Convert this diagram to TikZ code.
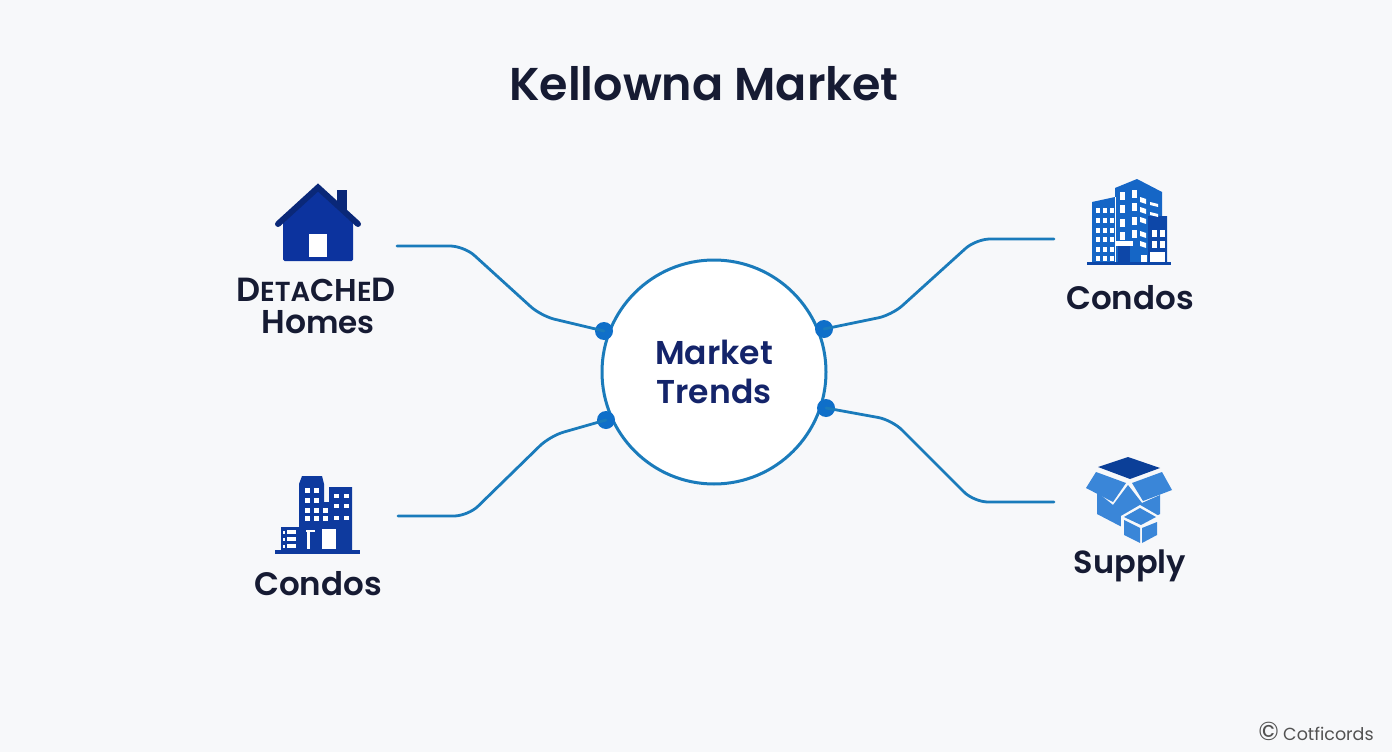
\documentclass[tikz,border=0pt]{standalone}
\usepackage{fontspec}
\setmainfont{Poppins}[BoldFont={Poppins SemiBold}]
\usetikzlibrary{calc}
\definecolor{bgc}{HTML}{F7F8FA}
\definecolor{halo}{HTML}{FDFDFE}
\definecolor{inkc}{HTML}{161B33}
\definecolor{navyt}{HTML}{14246A}
\definecolor{linec}{HTML}{1A7BBB}
\definecolor{dotc}{HTML}{0F6FC9}
\definecolor{housec}{HTML}{0C339E}
\definecolor{roofc}{HTML}{0A2878}
\definecolor{bldc}{HTML}{0E3A9E}
\definecolor{brightc}{HTML}{1566C6}
\definecolor{darkb}{HTML}{0D47A8}
\definecolor{boxc}{HTML}{3A86D8}
\definecolor{lidc}{HTML}{0B3F98}
\newcommand{\softpanel}[4]{%
  \foreach \d in {0,4,8,12,16}{
    \fill[halo,opacity=0.16,rounded corners=40pt] (#1+\d,#2+\d) rectangle (#3-\d,#4-\d);
  }}
\tikzset{
  label/.style={font=\bfseries\fontsize{32.5}{33}\selectfont,text=inkc,inner sep=0pt,anchor=center},
  link/.style={draw=linec,line width=2.8pt,line cap=round,line join=round,rounded corners=14pt},
  hub/.style={circle,fill=dotc,minimum size=18pt,inner sep=0pt},
}
\begin{document}
\begin{tikzpicture}[x=1pt,y=-1pt]
\useasboundingbox (0,0) rectangle (1392,752);
\fill[bgc] (0,0) rectangle (1392,752);
% soft panels
\softpanel{480}{46}{925}{128}
\softpanel{232}{160}{402}{356}
\softpanel{236}{450}{400}{626}
\softpanel{1051}{163}{1209}{339}
\softpanel{1051}{428}{1209}{608}

\node[font=\bfseries\fontsize{46}{46}\selectfont,text=inkc,inner sep=0pt] (title) at (704,84) {Kellowna Market};

% hub circle
\node[circle,draw=linec,line width=3pt,fill=white,minimum size=224pt,inner sep=0pt] (center) at (714,372) {};
\node[font=\bfseries\fontsize{33}{39}\selectfont,text=navyt,align=center,inner sep=0pt] (centerlabel) at (714,372) {Market\\Trends};

\node[hub] (hTL) at (604,331) {};
\node[hub] (hTR) at (824,329) {};
\node[hub] (hBL) at (606,420) {};
\node[hub] (hBR) at (826,408) {};

\coordinate (cTL) at (397,246);
\coordinate (cBL) at (398,516);
\coordinate (cTR) at (1054,239);
\coordinate (cBR) at (1054,502);
\draw[link] (cTL) -- (464,246) -- (541,316) -- (hTL.center);
\draw[link] (cBL) -- (468,516) -- (550,436) -- (hBL.center);
\draw[link] (cTR) -- (976,239) -- (892,315) -- (hTR.center);
\draw[link] (cBR) -- (974,502) -- (892,420) -- (hBR.center);

% house icon
\fill[roofc] (337,190) rectangle (347,212);
\fill[housec,rounded corners=1.5pt] (283,218) -- (318,190) -- (353,218) -- (353,261) -- (283,261) -- cycle;
\draw[roofc,line width=6pt,line join=miter,line cap=round] (278,224) -- (318,187.5) -- (358,224);
\fill[white] (309,234) rectangle (327,257);
\node[inner sep=0pt,text=inkc,font=\bfseries] (det) at (316,290) {\fontsize{33.5}{33}\selectfont D\fontsize{27.5}{27}\selectfont ETA\fontsize{31.5}{31}\selectfont CH\fontsize{27.5}{27}\selectfont E\fontsize{33.5}{33}\selectfont D};
\node[inner sep=0pt,text=inkc,font=\bfseries] (hom) at (318,322) {\fontsize{33}{33}\selectfont Ho\fontsize{31}{31}\selectfont mes};

% left condos icon
\fill[bldc] (275,549.5) rectangle (360,554);
\fill[bldc] (299,550) -- (299,484) -- (302,476) -- (322,476) -- (324,484) -- (324,502) -- (329,502) -- (329,487) -- (352,487) -- (352,550) -- cycle;
\fill[bldc] (281,527) rectangle (300,550);
\foreach \x in {305,314} \foreach \y in {488,498,508,516} \fill[white] (\x,\y) rectangle +(4.5,4.5);
\foreach \x in {334,344} \foreach \y in {494,504,516} \fill[white] (\x,\y) rectangle +(4.5,4);
\foreach \y in {508,516} \fill[white] (323,\y) rectangle +(4.5,4.5);
\foreach \y in {530,537,544} \fill[white] (287,\y) rectangle +(9,3.5);
\foreach \y in {531,538,545} \fill[white] (283,\y) rectangle +(2,2.5);
\fill[white] (306,530) rectangle (315,532);
\fill[white] (307,532) rectangle (310,549);
\fill[white] (322,529) rectangle (336,549);
\node[label] (condosL) at (318,584) {Condos};

% right condos icon
\fill[brightc] (1092,262) -- (1092,202) -- (1115,197) -- (1115,188) -- (1137,179) -- (1162,192) -- (1162,216) -- (1167,216) -- (1167,262) -- cycle;
\fill[darkb] (1148,216) rectangle (1167,262);
\draw[white,line width=1pt] (1115,197) -- (1115,262);
\fill[darkb] (1087,262) rectangle (1171,265);
\foreach \x in {1096,1103,1110} \foreach \y in {209,219,229,238,248,257} \fill[white] (\x-.5,\y-1) rectangle +(4,5);
\foreach \x in {1120,1132} \foreach \y in {192,205,219,232} \fill[white] (\x,\y-\x*0.12+134) rectangle +(5,8);
\foreach \y in {197,207,217,231,241} \fill[white] (1140,\y) -- (1146,\y+2) -- (1146,\y+7) -- (1140,\y+5) -- cycle;
\foreach \y in {202,212} \fill[white] (1150,\y) -- (1158,\y+2) -- (1158,\y+5) -- (1150,\y+3) -- cycle;
\foreach \x in {1152,1160} \foreach \y in {230,241} \fill[white] (\x,\y) rectangle +(5,7);
\fill[white] (1150,252) rectangle (1165,262);
\fill[white] (1141,255) rectangle (1147,262);
\fill[white] (1116,241) rectangle (1133,246);
\fill[darkb] (1118,246) rectangle (1130,262);
\node[label] (condosR) at (1130,298) {Condos};

% box icon
\fill[boxc] (1097,492) -- (1113,505) -- (1128,485) -- (1142,503) -- (1160,495) -- (1160,514) -- (1128,530) -- (1120,526) -- (1097,514) -- cycle;
\fill[lidc] (1098,467) -- (1128,457) -- (1160,468) -- (1130,479) -- cycle;
\fill[boxc] (1086,488) -- (1096,472) -- (1126,483) -- (1113,502) -- cycle;
\fill[boxc] (1132,483) -- (1162,472) -- (1172,490) -- (1143,501) -- cycle;
\fill[bgc] (1121,516) -- (1140,505) -- (1159,516) -- (1159,537) -- (1140,546) -- (1121,536) -- cycle;
\fill[boxc] (1124,517) -- (1140,508) -- (1156,517) -- (1141,525) -- cycle;
\fill[boxc] (1124,520) -- (1140,528) -- (1140,543) -- (1124,535) -- cycle;
\fill[boxc] (1142,528) -- (1157,522) -- (1157,535) -- (1142,543) -- cycle;
\node[font=\bfseries\fontsize{32}{33}\selectfont,text=inkc,inner sep=0pt] (supply) at (1130,566) {Supply};

% footer mark
\node[inner sep=0pt,text=black!68] (mark) at (1316,731) {\fontsize{26}{18}\selectfont ©\,\fontsize{17.5}{18}\selectfont Cotficords};
\end{tikzpicture}
\end{document}
